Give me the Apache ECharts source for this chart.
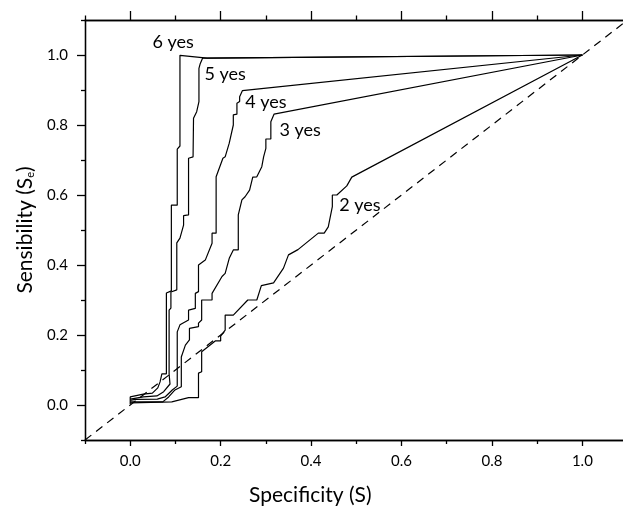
<!DOCTYPE html>
<html><head><meta charset="utf-8">
<script src="https://cdn.jsdelivr.net/npm/echarts@6/dist/echarts.min.js"></script>
<style>html,body{margin:0;padding:0;background:#fff}#c{width:623px;height:506px}</style>
</head><body><div id="c"></div>
<script>
// ---- data ----
const xMajorTicks = [0, 0.2, 0.4, 0.6, 0.8, 1.0];
const xMinorTicks = [-0.1, 0.1, 0.3, 0.5, 0.7, 0.9, 1.1];
const yMajorTicks = [0, 0.2, 0.4, 0.6, 0.8, 1.0];
const yMinorTicks = [-0.1, 0.1, 0.3, 0.5, 0.7, 0.9, 1.1];

const curve6yes = [[0,0.003],[0,0.023],[0.029,0.031],[0.049,0.034],[0.061,0.049],[0.066,0.066],[0.070,0.089],[0.080,0.089],[0.080,0.320],[0.091,0.326],[0.091,0.571],[0.104,0.571],[0.104,0.731],[0.110,0.740],[0.110,0.999],[0.170,0.991],[1,1]];
const curve5yes = [[0,0.017],[0.029,0.023],[0.059,0.026],[0.074,0.038],[0.088,0.060],[0.086,0.089],[0.086,0.271],[0.090,0.277],[0.090,0.323],[0.103,0.329],[0.103,0.463],[0.110,0.477],[0.118,0.514],[0.118,0.541],[0.129,0.543],[0.129,0.705],[0.139,0.709],[0.140,0.819],[0.147,0.838],[0.152,0.867],[0.152,0.962],[0.155,0.976],[0.160,0.991],[0.170,0.991],[1,1]];
const curve4yes = [[0,0.013],[0.011,0.016],[0.060,0.017],[0.077,0.023],[0.093,0.043],[0.104,0.054],[0.104,0.209],[0.110,0.229],[0.129,0.243],[0.129,0.271],[0.144,0.276],[0.144,0.319],[0.151,0.324],[0.151,0.400],[0.166,0.414],[0.181,0.462],[0.181,0.491],[0.190,0.491],[0.190,0.652],[0.205,0.705],[0.210,0.709],[0.219,0.748],[0.228,0.800],[0.228,0.829],[0.236,0.831],[0.236,0.862],[0.242,0.867],[0.242,0.881],[0.248,0.898],[1,1]];
const curve3yes = [[0,0.009],[0.072,0.009],[0.085,0.023],[0.099,0.043],[0.113,0.052],[0.113,0.137],[0.122,0.171],[0.131,0.186],[0.131,0.219],[0.151,0.224],[0.151,0.234],[0.158,0.243],[0.158,0.300],[0.181,0.300],[0.181,0.319],[0.203,0.367],[0.210,0.376],[0.219,0.419],[0.228,0.443],[0.239,0.443],[0.239,0.543],[0.247,0.586],[0.254,0.595],[0.264,0.614],[0.271,0.651],[0.280,0.652],[0.291,0.681],[0.295,0.709],[0.300,0.733],[0.300,0.760],[0.311,0.760],[0.311,0.809],[0.318,0.831],[1,1]];
const curve2yes = [[0,0.006],[0.092,0.009],[0.129,0.021],[0.151,0.021],[0.151,0.091],[0.158,0.095],[0.158,0.152],[0.188,0.183],[0.200,0.183],[0.200,0.197],[0.210,0.214],[0.210,0.257],[0.228,0.257],[0.260,0.300],[0.280,0.300],[0.290,0.341],[0.317,0.349],[0.339,0.391],[0.350,0.429],[0.371,0.444],[0.416,0.491],[0.429,0.491],[0.438,0.509],[0.447,0.567],[0.447,0.600],[0.457,0.600],[0.479,0.626],[0.490,0.651],[1,1]];
const diagonal = [[-0.1,-0.1],[1.1,1.1]];

const curveNames = ['6 yes','5 yes','4 yes','3 yes','2 yes'];
const labelCoords = [[0.095,1.037],[0.210,0.946],[0.300,0.866],[0.376,0.786],[0.508,0.571]];

// ---- chart ----
const FONT = 'Lato';
const TXT = '#000';
const lineS = {color:'#000', width:1.3};

function xAxisDef(pos, ticks, len, showLabels, extra){
  return Object.assign({
    type:'value', position:pos, min:-0.1, max:1.1,
    axisLine:{show:true, onZero:false, lineStyle:lineS},
    axisTick:{show:true, inside:false, length:len, customValues:ticks, lineStyle:lineS},
    axisLabel: showLabels ? {show:true, customValues:ticks, formatter:v=>v.toFixed(1), fontFamily:FONT, fontSize:15, color:TXT, margin:14} : {show:false},
    splitLine:{show:false}
  }, extra||{});
}
function yAxisDef(pos, ticks, len, showLabels, extra){
  return Object.assign({
    type:'value', position:pos, min:-0.1, max:1.1,
    axisLine:{show:true, onZero:false, lineStyle:lineS},
    axisTick:{show:true, inside:false, length:len, customValues:ticks, lineStyle:lineS},
    axisLabel: showLabels ? {show:true, customValues:ticks, formatter:v=>v.toFixed(1), fontFamily:FONT, fontSize:15, color:TXT, margin:17} : {show:false},
    splitLine:{show:false}
  }, extra||{});
}

const curves = [curve6yes, curve5yes, curve4yes, curve3yes, curve2yes];
const series = curves.map((d,i)=>({
  type:'line', name:curveNames[i], data:d, showSymbol:false, symbol:'none',
  lineStyle:{color:'#000', width:1.2}, silent:true, animation:false, z:3
}));
series.push({
  type:'line', data:diagonal, showSymbol:false, symbol:'none', silent:true, animation:false,
  lineStyle:{color:'#000', width:1.2, type:[8,6]}, z:2
});
series.push({
  type:'scatter', data:labelCoords.map((c,i)=>({value:c, name:curveNames[i]})),
  symbolSize:1, itemStyle:{color:'rgba(0,0,0,0)', opacity:1}, silent:true, animation:false, z:5,
  label:{show:true, position:'inside', formatter:p=>p.name, fontFamily:FONT, fontSize:18, color:TXT, opacity:1, textBorderWidth:0}
});

const chart = echarts.init(document.getElementById('c'), null, {renderer:'canvas'});
chart.setOption({
  backgroundColor:'#fff',
  animation:false,
  grid:{left:85, top:20, width:542.6, height:420, containLabel:false, outerBoundsMode:'none'},
  xAxis:[
    xAxisDef('bottom', xMajorTicks, 6, true, {name:'Specificity (S)', nameLocation:'middle', nameGap:45,
      nameTextStyle:{fontFamily:FONT, fontSize:21, color:TXT, padding:[0,92,0,0]}}),
    xAxisDef('bottom', xMinorTicks, 4, false),
    xAxisDef('top', xMajorTicks, 9, false),
    xAxisDef('top', xMinorTicks, 4.5, false)
  ],
  yAxis:[
    yAxisDef('left', yMajorTicks, 8, true, {name:'Sensibility (S{s|e})', nameLocation:'middle', nameGap:45,
      nameTextStyle:{fontFamily:FONT, fontSize:21, color:TXT, rich:{s:{fontFamily:FONT, fontSize:11, color:TXT, verticalAlign:'bottom', lineHeight:12}}}}),
    yAxisDef('left', yMinorTicks, 4, false)
  ],
  series: series.map(s=>Object.assign({xAxisIndex:0, yAxisIndex:0}, s))
});
</script></body></html>
